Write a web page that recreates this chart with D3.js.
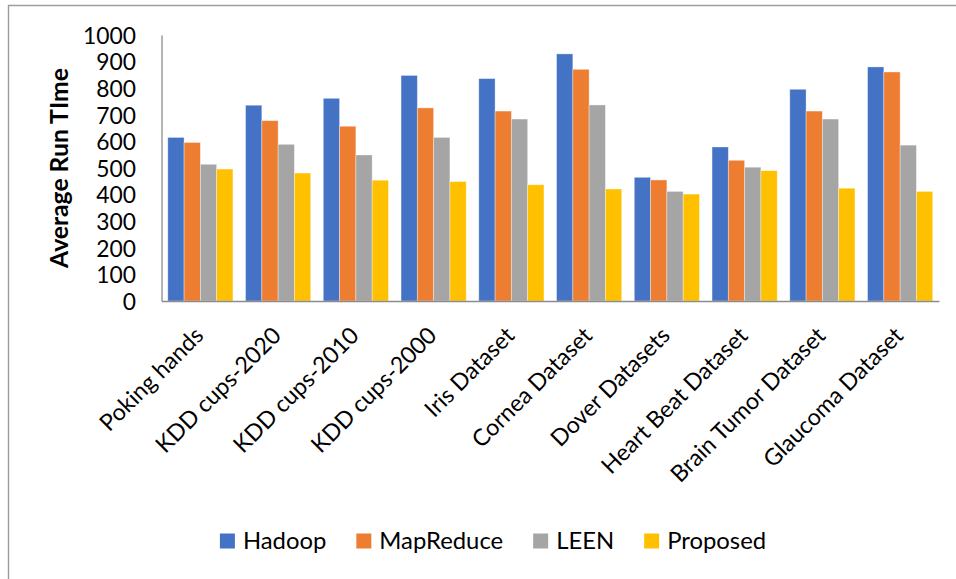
<!DOCTYPE html>
<html>
<head>
<meta charset="utf-8">
<script src="https://cdn.jsdelivr.net/npm/d3@7"></script>
<style>
  html, body { margin: 0; padding: 0; background: #fff; }
  svg { display: block; font-family: Lato, "Open Sans", sans-serif; }
</style>
</head>
<body>
<svg id="chart" width="956" height="579"></svg>
<script>
// Datasets on the x axis
const categories = ["Poking hands", "KDD cups-2020", "KDD cups-2010", "KDD cups-2000",
  "Iris Dataset", "Cornea Dataset", "Dover Datasets", "Heart Beat Dataset",
  "Brain Tumor Dataset", "Glaucoma Dataset"];

// Average run time per method
const seriesNames = ["Hadoop", "MapReduce", "LEEN", "Proposed"];
const hadoop    = [615, 736, 762, 848, 836, 929, 465, 579, 796, 880];
const mapReduce = [596, 678, 657, 726, 714, 871, 455, 529, 714, 861];
const leen      = [514, 589, 549, 615, 684, 737, 412, 503, 684, 586];
const proposed  = [496, 481, 454, 449, 437, 421, 402, 490, 424, 412];
const seriesValues = [hadoop, mapReduce, leen, proposed];
const colors = ["#4472C4", "#ED7D31", "#A5A5A5", "#FFC000"];

const yTicks = [0, 100, 200, 300, 400, 500, 600, 700, 800, 900, 1000];
const yTitle = "Average Run TIme";

const svg = d3.select("#chart");
const W = 956, H = 579;
const plot = { left: 161.5, right: 939, top: 35, bottom: 301 };

// font size at which a sample string reaches a given width
function fitSize(sample, width, weight) {
  const t = svg.append("text").attr("font-size", 100)
    .attr("font-weight", weight || "normal").text(sample);
  const w = t.node().getComputedTextLength();
  t.remove();
  return 100 * width / w;
}
const tickSize = fitSize("1000", 53);
const catSize = fitSize("KDD cups-2020", 166);
const legendSize = fitSize("Proposed", 99);
const titleSize = fitSize(yTitle, 200, "bold");

// outer chart frame (top and left edges visible)
svg.append("path")
  .attr("d", `M8.5,${H} V5.5 H${W}`)
  .attr("fill", "none")
  .attr("stroke", "#9d9d9d")
  .attr("stroke-width", 1.4);

const x0 = d3.scaleBand()
  .domain(categories)
  .range([plot.left, plot.right])
  .paddingInner(0.162)
  .paddingOuter(0.081);

const x1 = d3.scaleBand()
  .domain(seriesNames)
  .range([0, x0.bandwidth()]);

const y = d3.scaleLinear()
  .domain([0, 1000])
  .range([plot.bottom, plot.top]);

// bars
const groups = svg.append("g").selectAll("g")
  .data(categories)
  .join("g")
  .attr("transform", d => `translate(${x0(d)},0)`);

groups.selectAll("rect")
  .data((d, i) => seriesNames.map((s, k) => ({ s, k, v: seriesValues[k][i] })))
  .join("rect")
  .attr("x", d => x1(d.s))
  .attr("y", d => y(d.v))
  .attr("width", x1.bandwidth())
  .attr("height", d => y(0) - y(d.v))
  .attr("fill", d => colors[d.k])
  .attr("stroke", "#ffffff")
  .attr("stroke-opacity", 0.45)
  .attr("stroke-width", 0.8);

// y axis
const yAxis = d3.axisLeft(y).tickValues(yTicks).tickFormat(d3.format("d"))
  .tickSize(0).tickPadding(25.5);
const gy = svg.append("g")
  .attr("transform", `translate(${plot.left},0)`)
  .call(yAxis);
gy.select(".domain").attr("stroke", "#8c8c8c").attr("stroke-width", 1.3);
gy.selectAll("text")
  .attr("font-family", "Lato, sans-serif")
  .attr("font-size", tickSize)
  .attr("fill", "#000")
  .attr("dy", "0.36em");

// x axis
const xAxis = d3.axisBottom(x0).tickSize(0).tickFormat("");
const gx = svg.append("g")
  .attr("transform", `translate(0,${plot.bottom})`)
  .call(xAxis);
gx.select(".domain").attr("stroke", "#8c8c8c").attr("stroke-width", 1.3);

// rotated category labels
svg.append("g").selectAll("text")
  .data(categories)
  .join("text")
  .attr("transform", d => `translate(${x0(d) + x0.bandwidth() / 2 + 4.5},337) rotate(-45)`)
  .attr("text-anchor", "end")
  .attr("font-size", catSize)
  .attr("fill", "#000")
  .text(d => d);

// y axis title
svg.append("text")
  .attr("transform", "translate(68,168) rotate(-90)")
  .attr("text-anchor", "middle")
  .attr("font-size", titleSize)
  .attr("font-weight", "bold")
  .attr("fill", "#000")
  .text(yTitle);

// legend, laid out from measured label widths and centred
const legend = svg.append("g");
const items = legend.selectAll("g")
  .data(seriesNames)
  .join("g");
items.append("rect")
  .attr("width", 15).attr("height", 15)
  .attr("y", -15)
  .attr("fill", (d, i) => colors[i]);
items.append("text")
  .attr("x", 23)
  .attr("font-size", legendSize)
  .attr("fill", "#000")
  .text(d => d);
let cursor = 0;
items.each(function() {
  const g = d3.select(this);
  g.attr("transform", `translate(${cursor},0)`);
  cursor += 23 + g.select("text").node().getComputedTextLength() + 30;
});
const legendWidth = cursor - 30;
legend.attr("transform", `translate(${493 - legendWidth / 2},548.5)`);
</script>
</body>
</html>
